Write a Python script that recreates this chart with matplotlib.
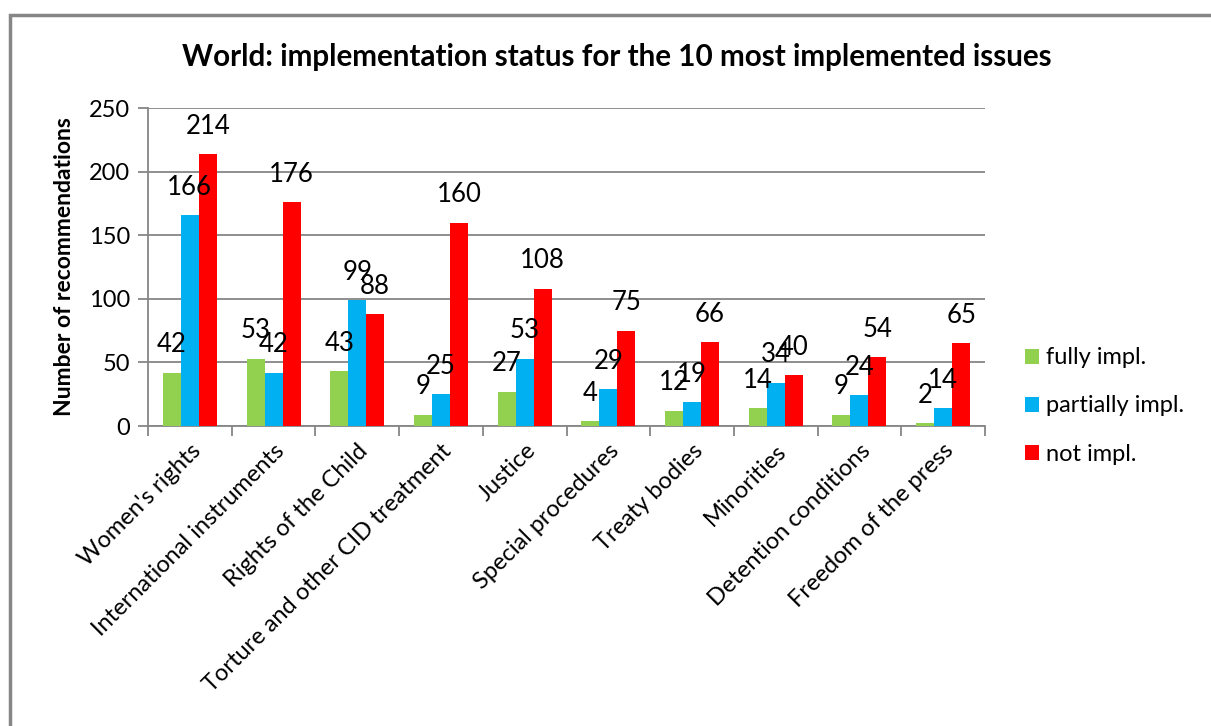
import numpy as np
import matplotlib
matplotlib.use("Agg")
import matplotlib.pyplot as plt
from matplotlib.patches import Rectangle

plt.rcParams['font.family'] = ['Lato', 'DejaVu Sans']

categories = ["Women's rights", "International instruments", "Rights of the Child",
              "Torture and other CID treatment", "Justice", "Special procedures",
              "Treaty bodies", "Minorities", "Detention conditions", "Freedom of the press"]
fully = [42, 53, 43, 9, 27, 4, 12, 14, 9, 2]
partially = [166, 42, 99, 25, 53, 29, 19, 34, 24, 14]
not_impl = [214, 176, 88, 160, 108, 75, 66, 40, 54, 65]

series = [("fully impl.", fully, "#92D050"),
          ("partially impl.", partially, "#00B0F0"),
          ("not impl.", not_impl, "#FF0000")]

fig = plt.figure(figsize=(12.11, 7.26), dpi=100)
ax = fig.add_axes([0.1222, 0.4132, 0.6912, 0.438])

grey = "#868686"
x = np.arange(len(categories))
w = 0.215
for i, (name, vals, col) in enumerate(series):
    pos = x + (i - 1) * w
    ax.bar(pos, vals, w, color=col, label=name, zorder=3)
    for px, v in zip(pos, vals):
        ax.annotate(str(v), (px, v), xytext=(0, 20), textcoords="offset points",
                    ha="center", va="center", fontsize=18.5, zorder=4)

ax.set_xlim(-0.5, len(categories) - 0.5)
ax.set_ylim(0, 250)
ax.set_yticks(range(0, 251, 50))
ax.yaxis.grid(True, color=grey, linewidth=1.3, zorder=0)
ax.set_axisbelow(True)

ax.set_xticks(np.arange(-0.5, len(categories), 1.0))
ax.set_xticklabels([])
ax.set_xticks(x, minor=True)
ax.set_xticklabels(categories, minor=True, rotation=45, ha="right",
                   rotation_mode="anchor", fontsize=17)
ax.tick_params(axis="x", which="minor", length=0, pad=10)
ax.tick_params(axis="x", which="major", length=7, color=grey, width=1.3)
ax.tick_params(axis="y", length=7, color=grey, width=1.3, labelsize=17, pad=6)

for s in ["top", "right"]:
    ax.spines[s].set_visible(False)
for s in ["left", "bottom"]:
    ax.spines[s].set_color(grey)
    ax.spines[s].set_linewidth(1.3)

ax.set_ylabel("Number of recommendations", fontsize=16.5, fontweight="bold", labelpad=10)
fig.text(0.509, 0.921, "World: implementation status for the 10 most implemented issues",
         ha="center", va="center", fontsize=21.3, fontweight="bold")

ax.legend(loc="center left", bbox_to_anchor=(1.048, 0.063), frameon=False, fontsize=17,
          handlelength=0.6, handleheight=0.6, handletextpad=0.3, labelspacing=1.15,
          borderpad=0, borderaxespad=0)

fig.patches.append(Rectangle((10 / 1211, -0.2), 1.2, 1.2 - 15 / 726,
                             transform=fig.transFigure, fill=False,
                             edgecolor=grey, linewidth=2.5))

fig.savefig("out.png", dpi=100)
